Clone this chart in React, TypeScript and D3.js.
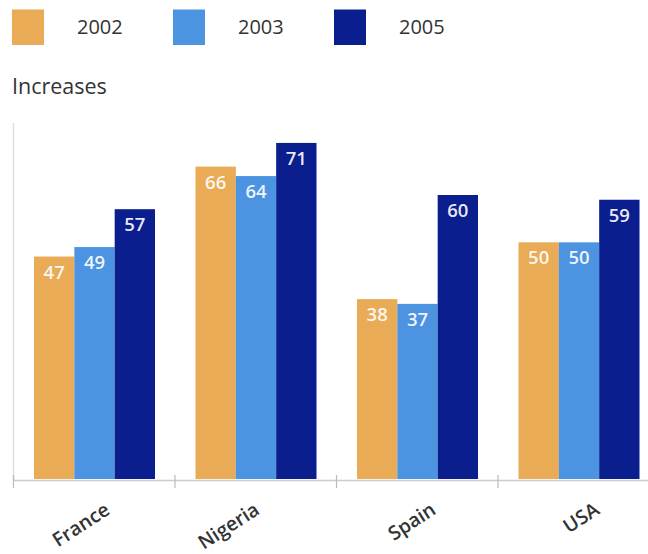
import React from "react";
import * as d3 from "d3";

// Countries and yearly increases
const countries = ["France", "Nigeria", "Spain", "USA"];
const years = ["2002", "2003", "2005"];
const values2002 = [47, 66, 38, 50];
const values2003 = [49, 64, 37, 50];
const values2005 = [57, 71, 60, 59];
const seriesValues = [values2002, values2003, values2005];
const yDomain = [0, 75];
const title = "Increases";

const colors = ["#E9AB55", "#4C93E2", "#0B1E8E"];
const W = 648;
const H = 554;
// small per-label horizontal nudges for the slanted country names
const labelNudge = [17, 5, 20, 22];

export default function App() {
  const x0 = d3.scaleBand<string>().domain(countries).range([13.5, 659.5]).paddingInner(0).paddingOuter(0);
  const x1 = d3.scaleBand<string>().domain(years).range([20.5, 141.5]).padding(0);
  const y = d3.scaleLinear().domain(yDomain).range([479, 124]);

  const font = "'Open Sans', 'DejaVu Sans', sans-serif";

  return (
    <svg width={W} height={H} style={{ position: "absolute", left: 0, top: 0 }} fontFamily={font}>
      <rect width={W} height={H} fill="#fff" />
      {/* legend */}
      {years.map((yr, i) => (
        <g key={yr} transform={`translate(${12 + i * 161},0)`}>
          <rect x={0} y={9.5} width={32} height={35.5} fill={colors[i]} />
          <text x={65} y={34} fontSize={20} fill="#333">{yr}</text>
        </g>
      ))}
      <text x={12} y={94} fontSize={21.5} fill="#333">{title}</text>

      {/* axes */}
      <line x1={13.5} x2={13.5} y1={123} y2={480} stroke="#ddd" strokeWidth={1.5} />
      <line x1={13} x2={W} y1={480.5} y2={480.5} stroke="#ccc" strokeWidth={1.5} />
      {countries.map((c) => (
        <line key={c} x1={x0(c)!} x2={x0(c)!} y1={475} y2={488} stroke="#bbb" strokeWidth={1.2} />
      ))}

      {/* bars */}
      {countries.map((c, ci) => (
        <g key={c} transform={`translate(${x0(c)},0)`}>
          {years.map((yr, si) => {
            const v = seriesValues[si][ci];
            const bx = x1(yr)!;
            const bw = x1.bandwidth();
            return (
              <g key={yr}>
                <rect x={bx} y={y(v)} width={bw} height={y(0) - y(v)} fill={colors[si]} />
                <text
                  x={bx + bw / 2}
                  y={y(v) + 22}
                  textAnchor="middle"
                  fontSize={18.5}
                  fontWeight={600}
                  fill="#fff"
                  fillOpacity={0.92}
                >
                  {v}
                </text>
              </g>
            );
          })}
        </g>
      ))}

      {/* category labels */}
      {countries.map((c, ci) => {
        const cx = x0(c)! + x0.bandwidth() / 2 + labelNudge[ci];
        return (
          <text
            key={c}
            transform={`translate(${cx},513) rotate(-33)`}
            textAnchor="end"
            fontSize={19.5}
            fontWeight={600}
            fill="#333"
          >
            {c}
          </text>
        );
      })}
    </svg>
  );
}
